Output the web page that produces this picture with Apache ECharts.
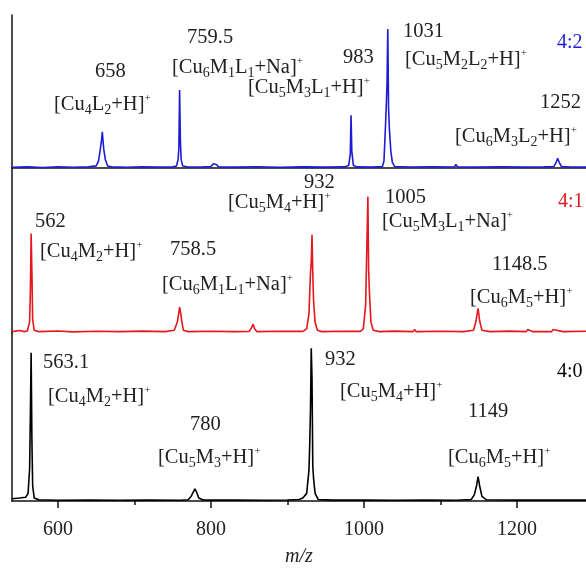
<!DOCTYPE html>
<html>
<head>
<meta charset="utf-8">
<script src="https://cdn.jsdelivr.net/npm/echarts@6/dist/echarts.min.js"></script>
<style>
  html, body { margin: 0; padding: 0; background: #fff; }
  #chart { width: 586px; height: 568px; }
</style>
</head>
<body>
<div id="chart"></div>
<script>
// x axis (m/z)
const xMin = 540;
const xMax = 1290;
const xTicksMajor = [600, 800, 1000, 1200];
const xTicksMinor = [700, 900, 1100];

// relative intensity, [m/z, %]
const spectrum42 = [
  [540, 0.5], [560, 0.8], [580, 0.4], [600, 0.9], [620, 0.5], [640, 0.8],
  [650, 1.5], [653, 5], [655, 12], [657, 20], [658, 26], [659, 19], [660, 13], [662, 6], [665, 1.5],
  [670, 0.8], [690, 0.5], [710, 0.9], [730, 0.6], [750, 0.8],
  [755, 1.5], [757, 6], [758, 14], [759, 56], [760, 20], [761, 6], [763, 1.5],
  [770, 0.7], [790, 0.8], [800, 1], [803, 3], [805, 4], [807, 2.5], [810, 0.8],
  [830, 0.6], [860, 0.9], [890, 0.5], [920, 0.8], [950, 0.6], [975, 0.8],
  [980, 2], [982, 10], [983, 38], [984, 12], [986, 2], [990, 0.8],
  [1010, 0.6], [1024, 1], [1026, 5], [1028, 30], [1029, 44], [1030, 60], [1031, 100],
  [1032, 44], [1033, 29], [1035, 12], [1037, 4], [1040, 1],
  [1060, 0.7], [1090, 0.9], [1118, 0.7], [1120, 2.5], [1122, 0.8], [1150, 0.6], [1180, 0.9],
  [1210, 0.6], [1235, 0.8], [1248, 1], [1251, 4], [1253, 7], [1255, 4], [1258, 1],
  [1270, 0.7], [1290, 0.6]
];
const spectrum41 = [
  [540, 1], [550, 1.8], [556, 1], [560, 1.5], [563, 8], [564, 30], [565, 73], [566, 45], [567, 10], [569, 2],
  [575, 1], [600, 1.5], [620, 0.8], [650, 1.3], [680, 1], [710, 1.4], [740, 1],
  [752, 2], [756, 8], [758, 15], [759, 19], [760, 16], [762, 8], [764, 2],
  [770, 1], [800, 1.3], [830, 1], [850, 1.2], [853, 4], [855, 6.5], [857, 3], [860, 1],
  [890, 1.3], [920, 1.2], [925, 3], [928, 14], [930, 44], [931, 52], [932, 72], [933, 44], [934, 24], [936, 8], [939, 2],
  [945, 1], [970, 1.3], [995, 1.2], [999, 3], [1002, 20], [1003, 46], [1005, 100], [1006, 46], [1007, 30], [1009, 8], [1012, 2],
  [1020, 1], [1040, 1.4], [1064, 1], [1066, 2.5], [1068, 1], [1100, 1.3], [1130, 1],
  [1143, 2], [1146, 8], [1149, 18], [1151, 9], [1154, 2],
  [1165, 1], [1190, 1.4], [1212, 1], [1214, 2.5], [1220, 1], [1245, 1], [1247, 2.5], [1260, 1], [1290, 1.3]
];
const spectrum40 = [
  [540, 1.5], [550, 2], [558, 2.5], [561, 5], [563, 21], [564, 56], [565, 97], [566, 40], [567, 10], [569, 2],
  [575, 0.8], [600, 0.5], [640, 0.7], [680, 0.5], [720, 0.7], [760, 0.5], [770, 0.8],
  [774, 3], [777, 6], [779, 8], [781, 6], [784, 2], [790, 0.6],
  [830, 0.7], [870, 0.5], [900, 0.7], [915, 1], [920, 2], [925, 5], [928, 20], [929, 37], [930, 60], [931, 100],
  [932, 80], [933, 23], [934, 15], [936, 5], [940, 1],
  [960, 0.6], [1000, 0.7], [1040, 0.5], [1080, 0.7], [1120, 0.5], [1140, 1],
  [1144, 4], [1147, 10], [1149, 16], [1151, 10], [1154, 3], [1160, 0.8],
  [1200, 0.6], [1240, 0.7], [1290, 0.6]
];

// annotation texts (_x subscript, ^x superscript)
const labels42 = ['658', '[Cu_4L_2+H]^+', '759.5', '[Cu_6M_1L_1+Na]^+', '983', '[Cu_5M_3L_1+H]^+',
  '1031', '[Cu_5M_2L_2+H]^+', '1252', '[Cu_6M_3L_2+H]^+'];
const labels41 = ['562', '[Cu_4M_2+H]^+', '758.5', '[Cu_6M_1L_1+Na]^+', '932', '[Cu_5M_4+H]^+',
  '1005', '[Cu_5M_3L_1+Na]^+', '1148.5', '[Cu_6M_5+H]^+'];
const labels40 = ['563.1', '[Cu_4M_2+H]^+', '780', '[Cu_5M_3+H]^+', '932', '[Cu_5M_4+H]^+',
  '1149', '[Cu_6M_5+H]^+'];
const ratioLabels = ['4:2', '4:1', '4:0'];

// label placement (left x, center y) in px
const pos42 = [[95, 72], [54, 105], [187, 38], [172, 68], [343, 58], [248, 88],
  [403, 32], [405, 60], [540, 103], [455, 137]];
const pos41 = [[35, 222], [40, 252], [170, 250], [162, 285], [304, 183], [228, 203],
  [385, 198], [382, 222], [492, 265], [470, 298]];
const pos40 = [[43, 363], [48, 397], [190, 425], [158, 458], [325, 360], [340, 392],
  [468, 412], [448, 458]];
const posRatio = [[557, 43], [558, 202], [557, 372]];

const colors = ['#1c1cd6', '#e5161c', '#000000'];
const serif = '"Liberation Serif", "Times New Roman", serif';

const rich = {
  n: { fontSize: 20.5, fontFamily: serif, lineHeight: 24, fill: '#222' },
  b: { fontSize: 14, fontFamily: serif, lineHeight: 14, verticalAlign: 'bottom', fill: '#222' },
  p: { fontSize: 11, fontFamily: serif, lineHeight: 11, verticalAlign: 'top', fill: '#222' },
};

function richText(s) {
  let out = '';
  let buf = '';
  const flush = () => { if (buf) { out += '{n|' + buf + '}'; buf = ''; } };
  for (let i = 0; i < s.length; i++) {
    const c = s[i];
    if (c === '_' || c === '^') {
      flush();
      out += '{' + (c === '_' ? 'b' : 'p') + '|' + s[i + 1] + '}';
      i++;
    } else {
      buf += c;
    }
  }
  flush();
  return out;
}

const graphics = [];
[[labels42, pos42], [labels41, pos41], [labels40, pos40]].forEach(([texts, pos]) => {
  texts.forEach((t, i) => {
    graphics.push({
      type: 'text', x: pos[i][0], y: pos[i][1], silent: true,
      style: { text: richText(t), rich, align: 'left', verticalAlign: 'middle' },
    });
  });
});
ratioLabels.forEach((t, i) => {
  graphics.push({
    type: 'text', x: posRatio[i][0], y: posRatio[i][1], silent: true,
    style: { text: t, fill: colors[i], font: '20px ' + serif, align: 'left', verticalAlign: 'middle' },
  });
});

const axisLineStyle = { color: '#111', width: 1.5 };
const yAxisBase = (grid, max) => ({
  type: 'value', gridIndex: grid, min: 0, max,
  axisLine: { show: true, lineStyle: axisLineStyle },
  axisTick: { show: false }, axisLabel: { show: false }, splitLine: { show: false },
});

const chart = echarts.init(document.getElementById('chart'));
chart.setOption({
  animation: false,
  backgroundColor: '#fff',
  grid: [
    { left: 12, right: 0, top: 15, height: 153 },
    { left: 12, right: 0, top: 168, height: 165 },
    { left: 12, right: 0, top: 333, height: 169 },
  ],
  xAxis: [
    {
      type: 'value', gridIndex: 0, position: 'top', min: xMin, max: xMax,
      axisLine: { show: true, lineStyle: axisLineStyle },
      axisTick: { show: false }, axisLabel: { show: false }, splitLine: { show: false },
    },
    { type: 'value', gridIndex: 1, min: xMin, max: xMax, show: false },
    {
      type: 'value', gridIndex: 2, position: 'bottom', min: xMin, max: xMax,
      axisLine: { show: true, onZero: false, lineStyle: axisLineStyle },
      axisTick: { show: true, inside: false, length: 7, lineStyle: axisLineStyle, customValues: xTicksMajor },
      axisLabel: {
        show: true, customValues: xTicksMajor, margin: 19,
        formatter: (v) => String(v),
        color: '#222', fontSize: 20, fontFamily: serif,
      },
      splitLine: { show: false },
      name: 'm/z', nameLocation: 'middle', nameGap: 46,
      nameTextStyle: { fontSize: 20, fontFamily: serif, fontStyle: 'italic', color: '#222' },
    },
    {
      type: 'value', gridIndex: 2, position: 'bottom', min: xMin, max: xMax,
      axisLine: { show: false },
      axisTick: { show: true, inside: false, length: 4, lineStyle: axisLineStyle, customValues: xTicksMinor },
      axisLabel: { show: false }, splitLine: { show: false },
    },
  ],
  yAxis: [yAxisBase(0, 110), yAxisBase(1, 121), yAxisBase(2, 110)],
  series: [
    { type: 'line', xAxisIndex: 0, yAxisIndex: 0, data: spectrum42, showSymbol: false,
      lineStyle: { color: colors[0], width: 1.6 }, itemStyle: { color: colors[0] } },
    { type: 'line', xAxisIndex: 1, yAxisIndex: 1, data: spectrum41, showSymbol: false,
      lineStyle: { color: colors[1], width: 1.6 }, itemStyle: { color: colors[1] } },
    { type: 'line', xAxisIndex: 2, yAxisIndex: 2, data: spectrum40, showSymbol: false,
      lineStyle: { color: colors[2], width: 1.6 }, itemStyle: { color: colors[2] } },
  ],
  graphic: graphics,
});
</script>
</body>
</html>
